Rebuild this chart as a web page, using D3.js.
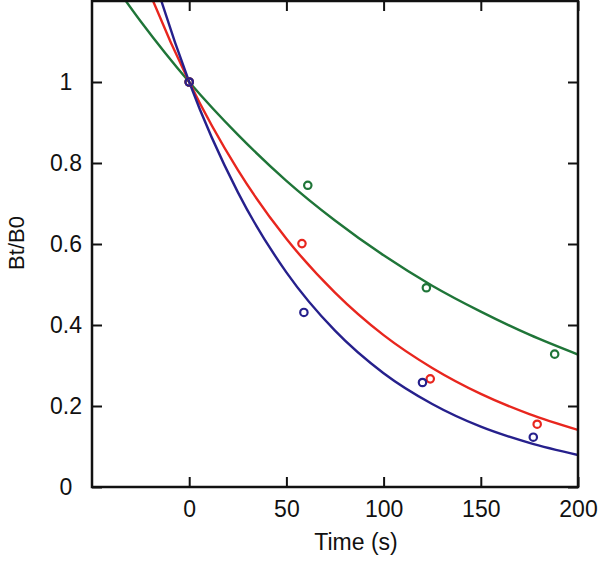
<!DOCTYPE html>
<html>
<head>
<meta charset="utf-8">
<script src="https://cdn.jsdelivr.net/npm/d3@7"></script>
<style>
  body { margin: 0; background: #fff; }
  text { font-family: "Liberation Sans", Arial, sans-serif; fill: #111; }
</style>
</head>
<body>
<div id="chart"></div>
<script>
// Fitted curves at these times
const curveTimes = [-50, -25, 0, 25, 50, 75, 100, 125, 150, 175, 200];
const greenCurve = [1.32, 1.15, 1, 0.87, 0.756, 0.658, 0.572, 0.497, 0.433, 0.376, 0.327];
const redCurve   = [1.63, 1.278, 1, 0.783, 0.613, 0.48, 0.375, 0.294, 0.23, 0.18, 0.141];
const blueCurve  = [1.88, 1.374, 1, 0.728, 0.53, 0.386, 0.281, 0.205, 0.149, 0.109, 0.079];

// Measured points
const greenPts = [[0, 1], [61, 0.745], [122, 0.492], [188, 0.328]];
const redPts   = [[0, 1], [58, 0.601], [124, 0.267], [179, 0.155]];
const bluePts  = [[0, 1], [59, 0.431], [120, 0.258], [177, 0.123]];

const xTicks = [0, 50, 100, 150, 200];
const yTicks = [0, 0.2, 0.4, 0.6, 0.8, 1];

const width = 601, height = 562;
const mLeft = 92, mRight = 578, mTop = 1, mBottom = 487;

const svg = d3.select("#chart").append("svg")
  .attr("width", width)
  .attr("height", height);

const x = d3.scaleLinear().domain([-50, 200]).range([mLeft, mRight]);
const y = d3.scaleLinear().domain([0, 1.2]).range([mBottom, mTop]);

svg.append("clipPath").attr("id", "clip")
  .append("rect")
  .attr("x", mLeft).attr("y", mTop)
  .attr("width", mRight - mLeft).attr("height", mBottom - mTop);

const series = [
  { curve: greenCurve, pts: greenPts, color: "#1f7538" },
  { curve: redCurve, pts: redPts, color: "#e8261e" },
  { curve: blueCurve, pts: bluePts, color: "#26208c" }
];

const line = d3.line()
  .x((d, i) => x(curveTimes[i]))
  .y(d => y(d))
  .curve(d3.curveMonotoneX);

const plot = svg.append("g").attr("clip-path", "url(#clip)");

series.forEach(s => {
  plot.append("path")
    .attr("d", line(s.curve))
    .attr("fill", "none")
    .attr("stroke", s.color)
    .attr("stroke-width", 2.4);
});

series.forEach(s => {
  svg.append("g").selectAll("circle")
    .data(s.pts)
    .join("circle")
    .attr("cx", d => x(d[0]))
    .attr("cy", d => y(d[1]))
    .attr("r", 3.7)
    .attr("fill", "none")
    .attr("stroke", s.color)
    .attr("stroke-width", 2.2);
});

// Frame with inward ticks on all four sides
const axisStyle = g => {
  g.select(".domain").remove();
  g.selectAll(".tick line").attr("stroke", "#111").attr("stroke-width", 2);
};

svg.append("g")
  .attr("transform", `translate(0,${mBottom})`)
  .call(d3.axisBottom(x).tickValues(xTicks).tickSize(-10).tickPadding(14).tickFormat(d3.format("d")))
  .call(axisStyle)
  .call(g => g.selectAll("text").attr("font-size", 23).attr("font-family", "Liberation Sans, Arial, sans-serif").attr("fill", "#111"));

svg.append("g")
  .attr("transform", `translate(0,${mTop})`)
  .call(d3.axisTop(x).tickValues(xTicks).tickSize(-10).tickFormat(""))
  .call(axisStyle);

svg.append("g")
  .attr("transform", `translate(${mLeft},0)`)
  .call(d3.axisLeft(y).tickValues(yTicks).tickSize(-10).tickPadding(26).tickFormat(d3.format("~g")))
  .call(axisStyle)
  .call(g => g.selectAll("text")
    .attr("font-size", 23)
    .attr("font-family", "Liberation Sans, Arial, sans-serif")
    .attr("fill", "#111")
    .attr("text-anchor", "middle")
    .attr("x", 66 - mLeft));

svg.append("g")
  .attr("transform", `translate(${mRight},0)`)
  .call(d3.axisRight(y).tickValues(yTicks).tickSize(-10).tickFormat(""))
  .call(axisStyle);

svg.append("rect")
  .attr("x", mLeft).attr("y", mTop)
  .attr("width", mRight - mLeft).attr("height", mBottom - mTop)
  .attr("fill", "none")
  .attr("stroke", "#111")
  .attr("stroke-width", 2.5);

// Axis titles
svg.append("text")
  .attr("x", 356)
  .attr("y", 550)
  .attr("text-anchor", "middle")
  .attr("font-size", 23)
  .text("Time (s)");

svg.append("text")
  .attr("transform", `translate(24,243) rotate(-90)`)
  .attr("text-anchor", "middle")
  .attr("font-size", 22)
  .text("Bt/B0");
</script>
</body>
</html>
